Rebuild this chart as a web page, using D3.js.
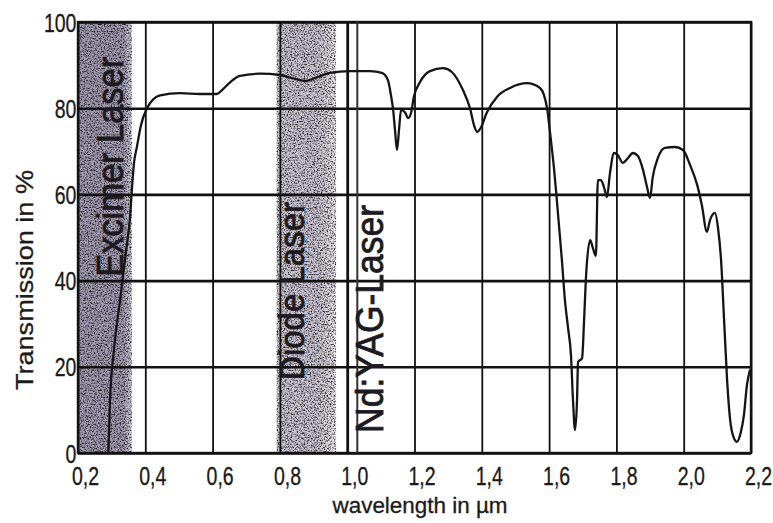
<!DOCTYPE html>
<html>
<head>
<meta charset="utf-8">
<script src="https://cdn.jsdelivr.net/npm/d3@7"></script>
<style>
  body { margin: 0; background: #fff; }
  svg { display: block; font-family: "Liberation Sans", Arial, sans-serif; }
</style>
</head>
<body>
<svg id="chart" width="773" height="523"></svg>
<script>
// transmission curve (wavelength in µm, transmission in %)
const wavelength = [
  0.290, 0.295, 0.307, 0.325, 0.343, 0.355, 0.360, 0.366, 0.375, 0.387,
  0.405, 0.423, 0.444, 0.503, 0.563, 0.613, 0.628, 0.652, 0.681, 0.741,
  0.800, 0.845, 0.875, 0.904, 0.949, 1.008, 1.068, 1.103, 1.121, 1.130,
  1.136, 1.142, 1.148, 1.154, 1.160, 1.172, 1.181, 1.190, 1.198, 1.216,
  1.246, 1.285, 1.311, 1.344, 1.365, 1.377, 1.386, 1.398, 1.415, 1.445,
  1.484, 1.534, 1.573, 1.594, 1.603, 1.615, 1.623, 1.638, 1.647, 1.656,
  1.665, 1.671, 1.677, 1.683, 1.686, 1.698, 1.704, 1.710, 1.722, 1.730,
  1.739, 1.745, 1.754, 1.763, 1.772, 1.781, 1.793, 1.804, 1.819, 1.834,
  1.849, 1.864, 1.879, 1.891, 1.900, 1.908, 1.923, 1.944, 1.974, 1.998,
  2.019, 2.040, 2.054, 2.069, 2.078, 2.093, 2.102, 2.111, 2.120, 2.129,
  2.138, 2.146, 2.158, 2.170, 2.179, 2.188, 2.197
];
const transmission = [
  0, 12, 24, 35.5, 47, 55, 61, 67, 71, 76,
  80, 82, 83, 83.5, 83.3, 83.3, 84.2, 86, 87.5, 88,
  87.7, 86.8, 86.3, 87, 88.2, 88.6, 88.6, 88.2, 86.5, 83,
  80, 75, 70.3, 75, 79.6, 79, 77.7, 79, 82.6, 86,
  88.6, 89.3, 88.4, 84.2, 80, 76, 74.5, 75.6, 79, 82.6,
  84.7, 85.8, 84.7, 80, 74.2, 65.7, 58.7, 44.8, 35.5, 29.2,
  22.7, 12.3, 5.3, 12.3, 21.1, 22, 30.9, 41.3, 49.4, 47.6,
  45.7, 63.3, 63.3, 61.7, 59.4, 65, 69.6, 69.1, 67.3, 68.4,
  69.6, 68.9, 65.7, 61.7, 59.2, 64, 68.4, 70.8, 71, 70.3,
  66.8, 62.2, 57.5, 51.3, 54, 55.7, 52.2, 44.8, 30.9, 16.9,
  7.7, 4.2, 2.6, 4.9, 8.8, 15.8, 19.3
];

const xTicks = [0.2, 0.4, 0.6, 0.8, 1.0, 1.2, 1.4, 1.6, 1.8, 2.0, 2.2];
const yTicks = [0, 20, 40, 60, 80, 100];

// laser ranges
const bandNames = ["Excimer Laser", "Diode Laser"];
const bandFrom = [0.2, 0.79];
const bandTo = [0.36, 0.967];
const ndYagName = "Nd:YAG-Laser";
const ndYagLine = 1.03;

const svg = d3.select("#chart");
const plotL = 78, plotR = 751, plotT = 22, plotB = 453;

const x = d3.scaleLinear().domain([0.2, 2.2]).range([plotL, plotR]);
const y = d3.scaleLinear().domain([0, 100]).range([plotB, plotT]);

// grainy print texture for the shaded bands
const defs = svg.append("defs");
const grain = defs.append("filter").attr("id", "grain")
  .attr("x", 0).attr("y", 0).attr("width", "100%").attr("height", "100%")
  .attr("color-interpolation-filters", "sRGB");
grain.append("feTurbulence").attr("type", "fractalNoise")
  .attr("baseFrequency", 0.7).attr("numOctaves", 2).attr("seed", 7).attr("result", "t");
grain.append("feColorMatrix").attr("in", "t").attr("type", "matrix")
  .attr("values", "2.6 0 0 0 -0.45  2.6 0 0 0 -0.45  2.6 0 0 0 -0.45  0 0 0 0 1")
  .attr("result", "n");
grain.append("feBlend").attr("in", "SourceGraphic").attr("in2", "n").attr("mode", "multiply").attr("result", "m");
grain.append("feComposite").attr("in", "m").attr("in2", "SourceGraphic").attr("operator", "in");

const bandColors = [["#a29ab0", "#a29ab0", "#d6d1dc"], ["#cbc5d3", "#cbc5d3", "#ebe8ee"]];
const bandEdge = [0.85, 0.72];
bandNames.forEach((name, i) => {
  const g = defs.append("linearGradient").attr("id", "band" + i);
  g.append("stop").attr("offset", 0).attr("stop-color", bandColors[i][0]);
  g.append("stop").attr("offset", bandEdge[i]).attr("stop-color", bandColors[i][1]);
  g.append("stop").attr("offset", 1).attr("stop-color", bandColors[i][2]);
});

svg.append("g").selectAll("rect").data(bandNames).enter().append("rect")
  .attr("x", (d, i) => x(bandFrom[i]))
  .attr("width", (d, i) => x(bandTo[i]) - x(bandFrom[i]))
  .attr("y", y(100))
  .attr("height", y(0) - y(100))
  .attr("fill", (d, i) => `url(#band${i})`)
  .attr("filter", "url(#grain)");

// grid via the axes
const fmt = d => d3.format(".1f")(d).replace(".", ",");
const xAxis = svg.append("g").attr("transform", `translate(0,${plotB})`)
  .call(d3.axisBottom(x).tickValues(xTicks).tickSize(-(plotB - plotT)).tickPadding(14).tickFormat(fmt));
const yAxis = svg.append("g").attr("transform", `translate(${plotL},0)`)
  .call(d3.axisLeft(y).tickValues(yTicks).tickSize(-(plotR - plotL)).tickPadding(2));
xAxis.select(".domain").remove();
yAxis.select(".domain").remove();
xAxis.selectAll("line").attr("stroke", "#111").attr("stroke-width", 1.8);
xAxis.selectAll(".tick line").filter(d => d === 1.0).attr("stroke-width", 2.8);
yAxis.selectAll("line").attr("stroke", "#111").attr("stroke-width", 2.6);
[xAxis, yAxis].forEach(a => a.selectAll("text")
  .attr("fill", "#1a1a1a").style("font-size", "25px")
  .attr("stroke", "#1a1a1a").attr("stroke-width", 0.3)
  .attr("transform", "scale(0.78,1)"));
xAxis.selectAll("text").attr("dx", 9);
yAxis.selectAll("text").attr("dy", "0.36em");

svg.append("rect").attr("x", plotL).attr("y", plotT)
  .attr("width", plotR - plotL).attr("height", plotB - plotT)
  .attr("fill", "none").attr("stroke", "#111").attr("stroke-width", 2.4);

// Nd:YAG wavelength marker
svg.append("line")
  .attr("x1", x(ndYagLine)).attr("x2", x(ndYagLine))
  .attr("y1", y(0)).attr("y2", y(100))
  .attr("stroke", "#333").attr("stroke-width", 2);

// band labels, rotated
const labelX = [0.333, 0.873, 1.106];
const labelY = [66.4, 37.6, 31.1];
const labelSize = [37, 35, 38];
const labelLen = [220, 178, 228];
const labels = bandNames.concat([ndYagName]);
svg.append("g").selectAll("text").data(labels).enter().append("text")
  .attr("transform", (d, i) => `translate(${x(labelX[i])},${y(labelY[i])}) rotate(-90)`)
  .attr("text-anchor", "middle")
  .attr("textLength", (d, i) => labelLen[i])
  .attr("lengthAdjust", "spacingAndGlyphs")
  .style("font-size", (d, i) => labelSize[i] + "px")
  .attr("fill", "#1c1a20")
  .attr("stroke", "#1c1a20").attr("stroke-width", 0.8)
  .text(d => d);

// transmission curve
const line = d3.line().x(i => x(wavelength[i])).y(i => y(transmission[i])).curve(d3.curveMonotoneX);
svg.append("path").datum(d3.range(wavelength.length))
  .attr("d", line).attr("fill", "none")
  .attr("stroke", "#151515").attr("stroke-width", 2.3).attr("stroke-linejoin", "round");

// axis titles
svg.append("text").attr("transform", "translate(33,280) rotate(-90)")
  .attr("text-anchor", "middle").attr("textLength", 220).attr("lengthAdjust", "spacingAndGlyphs")
  .style("font-size", "24px").attr("fill", "#1a1a1a")
  .attr("stroke", "#1a1a1a").attr("stroke-width", 0.3).text("Transmission in %");
svg.append("text").attr("x", 420).attr("y", 513)
  .attr("text-anchor", "middle").attr("textLength", 175).attr("lengthAdjust", "spacingAndGlyphs")
  .style("font-size", "22px").attr("fill", "#1a1a1a")
  .attr("stroke", "#1a1a1a").attr("stroke-width", 0.3).text("wavelength in µm");
</script>
</body>
</html>
